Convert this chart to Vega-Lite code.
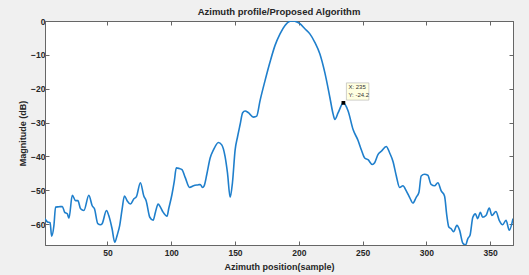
{
  "$schema": "https://vega.github.io/schema/vega-lite/v6.json",
  "width": 468,
  "height": 224,
  "autosize": "none",
  "padding": {"left": 45, "top": 21, "right": 16, "bottom": 30},
  "background": "#f0f0f0",
  "title": {"text": "Azimuth profile/Proposed Algorithm", "fontSize": 9.5, "fontWeight": "bold", "font": "Liberation Sans", "color": "#262626", "offset": 1},
  "config": {
    "view": {"fill": "white", "stroke": "#666666", "strokeWidth": 1},
    "axis": {
      "grid": false,
      "domainColor": "#666666",
      "tickColor": "#666666",
      "tickSize": -4,
      "labelFont": "Liberation Sans",
      "labelFontSize": 8.5,
      "labelFontWeight": "bold",
      "labelColor": "#262626",
      "titleFont": "Liberation Sans",
      "titleFontSize": 9,
      "titleFontWeight": "bold",
      "titleColor": "#262626"
    }
  },
  "datasets": {
    "profile": [
      {"x": 1, "y": -58.4}, {"x": 3, "y": -59.4}, {"x": 5, "y": -59.6}, {"x": 6.2, "y": -63.6}, {"x": 8, "y": -60.4},
      {"x": 9.3, "y": -55}, {"x": 12, "y": -54.9}, {"x": 14.6, "y": -54.8}, {"x": 16.4, "y": -56.5}, {"x": 18.5, "y": -57},
      {"x": 19.8, "y": -58.3}, {"x": 22.4, "y": -51.5}, {"x": 25, "y": -53.1}, {"x": 26.8, "y": -53.1}, {"x": 28.9, "y": -55.5},
      {"x": 31.5, "y": -56}, {"x": 35.4, "y": -51.5}, {"x": 38, "y": -54.6}, {"x": 39.8, "y": -55.5}, {"x": 42.4, "y": -59.9},
      {"x": 44.5, "y": -60.2}, {"x": 45.8, "y": -59.9}, {"x": 49.2, "y": -56}, {"x": 51, "y": -57.5}, {"x": 53.6, "y": -61.4},
      {"x": 55.7, "y": -65.4}, {"x": 57.6, "y": -63.3}, {"x": 59.6, "y": -60.4}, {"x": 61.5, "y": -55.5}, {"x": 63.3, "y": -51.7},
      {"x": 65.4, "y": -53.1}, {"x": 68, "y": -54.1}, {"x": 70.6, "y": -52.6}, {"x": 72.7, "y": -51.9}, {"x": 75.8, "y": -47.8},
      {"x": 78.5, "y": -51.7}, {"x": 80.3, "y": -53.1}, {"x": 83.2, "y": -58}, {"x": 85.8, "y": -58.9}, {"x": 87.6, "y": -56.5},
      {"x": 89.7, "y": -54.1}, {"x": 91.5, "y": -55}, {"x": 93.6, "y": -56.5}, {"x": 96.7, "y": -57.7}, {"x": 98, "y": -55.5},
      {"x": 100.6, "y": -51.2}, {"x": 102.4, "y": -47.3}, {"x": 104, "y": -43.4}, {"x": 106.3, "y": -43.6}, {"x": 108.4, "y": -43.9},
      {"x": 111, "y": -46.3}, {"x": 114.4, "y": -49.2}, {"x": 117.5, "y": -48.7}, {"x": 121.4, "y": -48.4}, {"x": 122.7, "y": -48.3},
      {"x": 124.5, "y": -49.2}, {"x": 125.8, "y": -48.7}, {"x": 127.9, "y": -45.3}, {"x": 130.5, "y": -40.5}, {"x": 133.1, "y": -38.1},
      {"x": 137, "y": -35.9}, {"x": 139.6, "y": -36.6}, {"x": 142.2, "y": -40}, {"x": 144.1, "y": -44.9}, {"x": 146.2, "y": -52.1},
      {"x": 148, "y": -47.8}, {"x": 150.1, "y": -38.1}, {"x": 152, "y": -34.2}, {"x": 154, "y": -30.6}, {"x": 156, "y": -27.1},
      {"x": 157.9, "y": -26.6}, {"x": 160.5, "y": -27.1}, {"x": 164.4, "y": -28.4}, {"x": 167, "y": -28.1}, {"x": 169.6, "y": -23.6},
      {"x": 173.5, "y": -17.7}, {"x": 177.4, "y": -12.2}, {"x": 181.4, "y": -7.2}, {"x": 185.3, "y": -3.8}, {"x": 189.2, "y": -1.3},
      {"x": 193, "y": -0.1}, {"x": 195, "y": 0}, {"x": 197, "y": -0.1}, {"x": 200.9, "y": -0.8}, {"x": 204.8, "y": -2.3},
      {"x": 208.7, "y": -3.8}, {"x": 212.6, "y": -6.3}, {"x": 216.5, "y": -9.7}, {"x": 220.4, "y": -15.2}, {"x": 224.4, "y": -22.6},
      {"x": 227, "y": -27.6}, {"x": 228.3, "y": -29.1}, {"x": 230.9, "y": -27.1}, {"x": 235, "y": -24.2}, {"x": 238.7, "y": -26.6},
      {"x": 242.6, "y": -32.1}, {"x": 246.5, "y": -35.3}, {"x": 249.1, "y": -38.1}, {"x": 251.7, "y": -40.5}, {"x": 254.3, "y": -41},
      {"x": 257.7, "y": -42.4}, {"x": 259.5, "y": -41.9}, {"x": 262.1, "y": -39.5}, {"x": 264.7, "y": -38.5}, {"x": 268.6, "y": -37.1},
      {"x": 271.3, "y": -39}, {"x": 273.9, "y": -41.5}, {"x": 276.5, "y": -45.8}, {"x": 279.1, "y": -49.2}, {"x": 281.7, "y": -48.7},
      {"x": 284.3, "y": -50.2}, {"x": 286.9, "y": -52.1}, {"x": 289.5, "y": -53.8}, {"x": 292.1, "y": -52.1}, {"x": 294.2, "y": -50.7},
      {"x": 296, "y": -45.8}, {"x": 298.6, "y": -45.3}, {"x": 301.2, "y": -45.6}, {"x": 303.8, "y": -48.3}, {"x": 306.5, "y": -48.7},
      {"x": 309.1, "y": -47.8}, {"x": 311.7, "y": -50.2}, {"x": 314.3, "y": -51.7}, {"x": 316.1, "y": -57.5}, {"x": 317.7, "y": -60.9},
      {"x": 319.5, "y": -61.4}, {"x": 321.4, "y": -62.3}, {"x": 324, "y": -60.4}, {"x": 326.1, "y": -61.8}, {"x": 328.7, "y": -65.7},
      {"x": 330.8, "y": -66.2}, {"x": 332.6, "y": -64.3}, {"x": 334.3, "y": -63.3}, {"x": 336.5, "y": -58}, {"x": 338.5, "y": -57},
      {"x": 340.3, "y": -58.4}, {"x": 342.4, "y": -56.5}, {"x": 344.2, "y": -58}, {"x": 346.8, "y": -57.5}, {"x": 349.4, "y": -55.3},
      {"x": 351.5, "y": -57.5}, {"x": 354.6, "y": -56.3}, {"x": 357.2, "y": -58.9}, {"x": 359.9, "y": -60.2}, {"x": 362.5, "y": -58.9},
      {"x": 365.1, "y": -61.8}, {"x": 368, "y": -58.4}
    ],
    "tip": [{"x": 235, "y": -24.2, "lx": "X: 235", "ly": "Y: -24.2"}]
  },
  "layer": [
    {
      "data": {"name": "profile"},
      "mark": {"type": "line", "color": "#1f7fcc", "strokeWidth": 1.6, "interpolate": "monotone", "clip": true},
      "encoding": {
        "x": {"field": "x", "type": "quantitative", "scale": {"domain": [1, 368], "nice": false, "zero": false},
              "axis": {"orient": "bottom", "values": [50, 100, 150, 200, 250, 300, 350], "title": "Azimuth position(sample)", "labelPadding": 7, "titlePadding": 6}},
        "y": {"field": "y", "type": "quantitative", "scale": {"domain": [-66.2, 0], "nice": false, "zero": false},
              "axis": {"orient": "left", "values": [-60, -50, -40, -30, -20, -10, 0], "title": "Magnitude (dB)", "labelPadding": 4, "titlePadding": 3}}
      }
    },
    {
      "data": {"name": "tip"},
      "mark": {"type": "point", "shape": "M0.6,-4H5.1V-0.55H0.6Z", "size": 100, "filled": true, "fill": "#ffffe1", "stroke": "#b0b0b0", "strokeWidth": 0.6, "opacity": 1},
      "encoding": {
        "x": {"field": "x", "type": "quantitative", "axis": {"orient": "top", "values": [50, 100, 150, 200, 250, 300, 350], "labels": false, "title": null}},
        "y": {"field": "y", "type": "quantitative", "axis": {"orient": "right", "values": [-60, -50, -40, -30, -20, -10, 0], "labels": false, "title": null}}
      }
    },
    {
      "data": {"name": "tip"},
      "mark": {"type": "point", "shape": "square", "size": 14, "filled": true, "color": "black", "opacity": 1},
      "encoding": {
        "x": {"field": "x", "type": "quantitative", "axis": null},
        "y": {"field": "y", "type": "quantitative", "axis": null}
      }
    },
    {
      "data": {"name": "tip"},
      "mark": {"type": "text", "align": "left", "baseline": "middle", "dx": 5, "dy": -15.5, "fontSize": 6, "font": "Liberation Sans", "color": "#333333"},
      "encoding": {
        "x": {"field": "x", "type": "quantitative", "axis": null},
        "y": {"field": "y", "type": "quantitative", "axis": null},
        "text": {"field": "lx"}
      }
    },
    {
      "data": {"name": "tip"},
      "mark": {"type": "text", "align": "left", "baseline": "middle", "dx": 5, "dy": -7.5, "fontSize": 6, "font": "Liberation Sans", "color": "#333333"},
      "encoding": {
        "x": {"field": "x", "type": "quantitative", "axis": null},
        "y": {"field": "y", "type": "quantitative", "axis": null},
        "text": {"field": "ly"}
      }
    }
  ],
  "resolve": {"axis": {"x": "independent", "y": "independent"}}
}
